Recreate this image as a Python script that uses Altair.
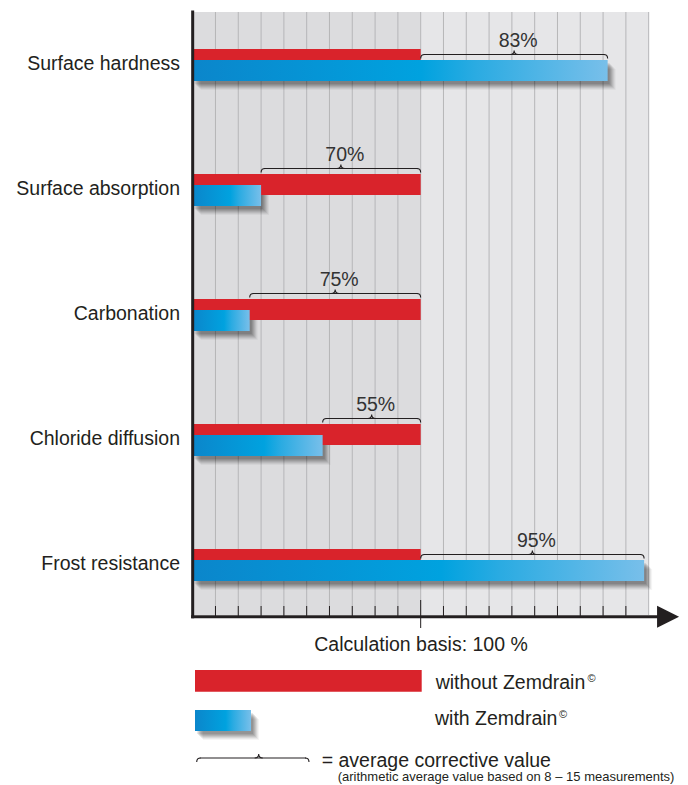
import altair as alt
import pandas as pd

# ---------------- data ----------------
categories = ["Surface hardness", "Surface absorption", "Carbonation",
              "Chloride diffusion", "Frost resistance"]
without_zemdrain = [100, 100, 100, 100, 100]
with_zemdrain = [182, 30, 25, 57, 198]
corrective_labels = ["83%", "70%", "75%", "55%", "95%"]

grid_values = list(range(10, 201, 10))
tick_values = [v for v in range(10, 200, 10) if v != 100]
basis_value = [100]
shade_from = [0, 100]
shade_to = [100, 200]
axis_end = [203.6]
arrow_at = [208.5]

# ---------------- styling ----------------
W, H = 672, 777
FONT = "Liberation Sans"
INK = "#231f20"
RED = "#d9232b"
GRID = "#b6b6b8"
SHADE_A = "#dcdcde"
SHADE_B = "#e6e6e8"
BLUE = alt.LinearGradient(
    gradient="linear", x1=0, x2=1, y1=0, y2=0,
    stops=[alt.GradientStop(color="#0b86cb", offset=0),
           alt.GradientStop(color="#00a2df", offset=0.55),
           alt.GradientStop(color="#2aabe2", offset=0.68),
           alt.GradientStop(color="#78bfea", offset=1)])
SHADOW = [(2, 3, 0.09), (3, 4, 0.09), (4, 5, 0.09), (5, 6, 0.08),
          (6, 7, 0.07), (7, 8, 0.05), (8, 9, 0.04)]

df = pd.DataFrame({"category": categories, "without": without_zemdrain,
                   "with": with_zemdrain, "label": corrective_labels})
df["zero"] = 0
df["b0"] = df[["without", "with"]].min(axis=1)
df["b1"] = df[["without", "with"]].max(axis=1)
df["bmid"] = (df["b0"] + df["b1"]) / 2
df["up"] = df["with"] > df["without"]

PX_PER_UNIT = 2.28
X0 = -81.0
xs = alt.Scale(domain=[X0, X0 + W / PX_PER_UNIT], nice=False, zero=False)
ys = alt.Scale(domain=categories, range=[-5, 620], paddingInner=0, paddingOuter=0)


def X(f):
    return alt.X(f, type="quantitative", scale=xs, axis=None)


Y = alt.Y("category:N", scale=ys, axis=None)

base = alt.Chart(df)
one = alt.Chart(pd.DataFrame({"k": [0]}))

layers = []

# background shading
bg = pd.DataFrame({"x0": shade_from, "x1": shade_to, "tone": ["a", "b"]})
layers.append(alt.Chart(bg).mark_rect().encode(
    x=X("x0"), x2="x1", y=alt.value(4), y2=alt.value(607),
    color=alt.Color("tone:N", scale=alt.Scale(domain=["a", "b"], range=[SHADE_A, SHADE_B]),
                    legend=None)))

# gridlines
layers.append(alt.Chart(pd.DataFrame({"x": grid_values})).mark_rule(
    color=GRID, strokeWidth=1).encode(x=X("x"), y=alt.value(4), y2=alt.value(607)))

# minor ticks
layers.append(alt.Chart(pd.DataFrame({"x": tick_values})).mark_rule(
    color=INK, strokeWidth=1).encode(x=X("x"), y=alt.value(598), y2=alt.value(608)))
# long tick at 100 %
layers.append(alt.Chart(pd.DataFrame({"x": basis_value})).mark_rule(
    color=INK, strokeWidth=1).encode(x=X("x"), y=alt.value(592), y2=alt.value(620)))

# shadows of blue bars
for dx, dy, op in SHADOW:
    layers.append(base.mark_bar(color="#000000", opacity=op, size=21, yOffset=5 + dy,
                                xOffset=dx, x2Offset=dx).encode(
        x=X("zero"), x2="with", y=Y))

# red bars
layers.append(base.mark_bar(color=RED, size=21, yOffset=-6).encode(
    x=X("zero"), x2="without", y=Y))
# blue bars
layers.append(base.mark_bar(color=BLUE, size=21, yOffset=5).encode(
    x=X("zero"), x2="with", y=Y))

# braces + percent labels
LEFT_HOOK = "M1,-1Q-1,-1 -1,1"
RIGHT_HOOK = "M-1,-1Q1,-1 1,1"
CUSP = "M-1,0.5Q0,0.5 0,-0.5Q0,0.5 1,0.5"
for flag, off in [(True, -11), (False, -22)]:
    b = base.transform_filter(alt.datum.up == flag)
    layers.append(b.mark_rule(color=INK, strokeWidth=1.1, yOffset=off, xOffset=3,
                              x2Offset=-3).encode(x=X("b0"), x2="b1", y=Y))
    layers.append(b.mark_point(shape=LEFT_HOOK, size=16, filled=False, opacity=1,
                               color=INK, strokeWidth=1.1, yOffset=off + 2, xOffset=2)
                  .encode(x=X("b0"), y=Y))
    layers.append(b.mark_point(shape=RIGHT_HOOK, size=16, filled=False, opacity=1,
                               color=INK, strokeWidth=1.1, yOffset=off + 2, xOffset=-2)
                  .encode(x=X("b1"), y=Y))
    layers.append(b.mark_point(shape=CUSP, size=64, filled=False, opacity=1,
                               color=INK, strokeWidth=1.1, yOffset=off - 2)
                  .encode(x=X("bmid"), y=Y))
    layers.append(b.mark_text(font=FONT, fontSize=19.5, color="#333333", align="center",
                              baseline="alphabetic", yOffset=off - 8, dx=4)
                  .encode(x=X("bmid"), y=Y, text="label:N"))

# axes
ax = pd.DataFrame({"x0": [0], "x1": axis_end, "arrow": arrow_at})
layers.append(alt.Chart(ax).mark_rule(color=INK, strokeWidth=3, strokeCap="square").encode(
    x=X("x0"), y=alt.value(4), y2=alt.value(608.7)))
layers.append(alt.Chart(ax).mark_rule(color=INK, strokeWidth=3, strokeCap="square").encode(
    x=X("x0"), x2="x1", y=alt.value(608.7)))
layers.append(alt.Chart(ax).mark_point(shape="M-1,-1L1,0L-1,1Z", size=484, filled=True,
                                       opacity=1, color=INK).encode(
    x=X("arrow"), y=alt.value(608.7)))

# category labels
layers.append(base.mark_text(font=FONT, fontSize=19.5, color=INK, align="right",
                             baseline="middle", yOffset=-1.5).encode(
    x=alt.value(172), y=Y, text="category:N"))

# ---------------- legend ----------------
layers.append(one.mark_text(font=FONT, fontSize=19.5, color=INK, align="center",
                            baseline="alphabetic", text="Calculation basis: 100 %").encode(
    x=alt.value(413), y=alt.value(643)))
layers.append(one.mark_rect(color=RED).encode(
    x=alt.value(187), x2=alt.value(413.7), y=alt.value(662), y2=alt.value(683.7)))
for dx, dy, op in SHADOW:
    layers.append(one.mark_rect(color="#000000", opacity=op).encode(
        x=alt.value(187 + dx), x2=alt.value(243 + dx), y=alt.value(702 + dy),
        y2=alt.value(723 + dy)))
layers.append(one.mark_rect(color=BLUE).encode(
    x=alt.value(187), x2=alt.value(243), y=alt.value(702), y2=alt.value(723)))

layers.append(one.mark_text(font=FONT, fontSize=19.5, color=INK, align="left",
                            baseline="alphabetic", text="without Zemdrain").encode(
    x=alt.value(427.7), y=alt.value(681)))
layers.append(one.mark_text(font=FONT, fontSize=11, color=INK, align="left",
                            baseline="alphabetic", text="©").encode(
    x=alt.value(579.5), y=alt.value(674)))
layers.append(one.mark_text(font=FONT, fontSize=19.5, color=INK, align="left",
                            baseline="alphabetic", text="with Zemdrain").encode(
    x=alt.value(427), y=alt.value(717)))
layers.append(one.mark_text(font=FONT, fontSize=11, color=INK, align="left",
                            baseline="alphabetic", text="©").encode(
    x=alt.value(551), y=alt.value(710)))

# legend brace
layers.append(one.mark_rule(color=INK, strokeWidth=1.1).encode(
    x=alt.value(191.7), x2=alt.value(298), y=alt.value(750)))
layers.append(one.mark_point(shape=LEFT_HOOK, size=16, filled=False, opacity=1, color=INK,
                             strokeWidth=1.1).encode(x=alt.value(190.7), y=alt.value(752)))
layers.append(one.mark_point(shape=RIGHT_HOOK, size=16, filled=False, opacity=1, color=INK,
                             strokeWidth=1.1).encode(x=alt.value(299), y=alt.value(752)))
layers.append(one.mark_point(shape=CUSP, size=64, filled=False, opacity=1, color=INK,
                             strokeWidth=1.1).encode(x=alt.value(250.7), y=alt.value(748)))
layers.append(one.mark_text(font=FONT, fontSize=19.5, color=INK, align="left",
                            baseline="alphabetic", text="= average corrective value").encode(
    x=alt.value(313.7), y=alt.value(759)))
layers.append(one.mark_text(font=FONT, fontSize=13.0, color=INK, align="left",
                            baseline="alphabetic",
                            text="(arithmetic average value based on 8 – 15 measurements)").encode(
    x=alt.value(329.7), y=alt.value(773)))

chart = alt.layer(*layers).properties(
    width=W, height=H, padding=0,
    autosize=alt.AutoSizeParams(type="none"),
    background="white",
).configure_view(stroke=None)

chart.save("out.html", embed_options={"renderer": "svg", "actions": False})
